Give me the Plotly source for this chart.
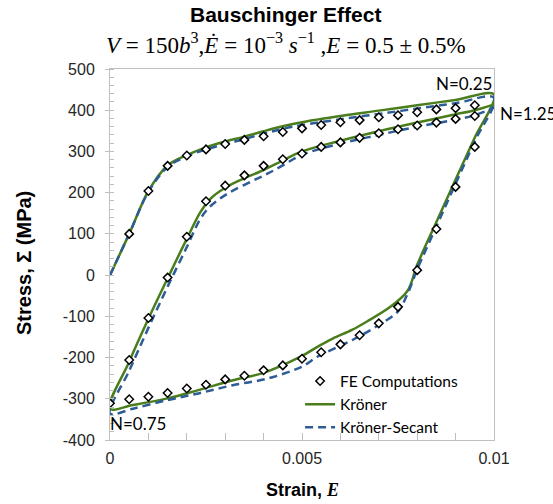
import plotly.graph_objects as go

# ---------------- data ----------------
# FE computations (markers)
fe_load_x = [0.0005, 0.001, 0.0015, 0.002, 0.0025, 0.003, 0.0035, 0.004, 0.0045, 0.005,
             0.0055, 0.006, 0.0065, 0.007, 0.0075, 0.008, 0.0085, 0.009, 0.0095]
fe_load_y = [100, 204, 265, 290, 305, 318, 328, 337, 347, 356,
             364, 371, 376, 383, 388, 395, 402, 405, 412]
fe_unload_x = [0.0095, 0.009, 0.0085, 0.008, 0.0075, 0.007, 0.0065, 0.006, 0.0055, 0.005,
               0.0045, 0.004, 0.0035, 0.003, 0.0025, 0.002, 0.0015, 0.001, 0.0005, 0.0]
fe_unload_y = [311, 214, 112, 12, -77, -117, -146, -168, -187, -203,
               -219, -231, -244, -253, -266, -275, -286, -295, -301, -311]
fe_reload_x = [0.0005, 0.001, 0.0015, 0.002, 0.0025, 0.003, 0.0035, 0.004, 0.0045, 0.005,
               0.0055, 0.006, 0.0065, 0.007, 0.0075, 0.008, 0.0085, 0.009, 0.0095]
fe_reload_y = [-206, -104, -6, 93, 179, 217, 242, 265, 281, 295,
               311, 322, 333, 344, 354, 363, 370, 379, 386]

# Kröner model (solid line)
kr_load_x = [0, 0.0005, 0.001, 0.0015, 0.002, 0.0025, 0.003, 0.0035, 0.004, 0.0045,
             0.005, 0.006, 0.007, 0.008, 0.009, 0.01]
kr_load_y = [0, 100, 204, 266, 291, 310, 324, 336, 349, 361,
             371, 386, 399, 412, 425, 438]
kr_unload_x = [0.0095, 0.009, 0.0085, 0.008, 0.00775, 0.0073, 0.0067, 0.0063, 0.0058,
               0.0054, 0.005, 0.004, 0.0032, 0.0023, 0.0015, 0.0006, 0.0]
kr_unload_y = [334, 232, 129, 25, -38, -77, -112, -133, -154,
               -174, -196, -237, -255, -279, -299, -315, -324]
kr_reload_x = [0.0005, 0.001, 0.0015, 0.002, 0.00235, 0.0026, 0.003, 0.0035, 0.004,
               0.0045, 0.005, 0.006, 0.007, 0.008, 0.009, 0.0095, 0.01]
kr_reload_y = [-210, -106, -8, 88, 152, 184, 212, 235, 255,
               278, 300, 326, 349, 370, 390, 400, 414]

# Kröner-Secant model (dashed line)
ks_load_x = [0, 0.0005, 0.001, 0.0015, 0.002, 0.0025, 0.003, 0.0035, 0.004, 0.0045,
             0.005, 0.006, 0.007, 0.008, 0.009, 0.01]
ks_load_y = [0, 100, 202, 262, 288, 305, 318, 330, 343, 355,
             364, 378, 391, 404, 417, 430]
ks_unload_x = [0.0095, 0.009, 0.0085, 0.008, 0.00775, 0.0075, 0.007, 0.0063, 0.0054,
               0.005, 0.0041, 0.0032, 0.0023, 0.0015, 0.0006, 0.0]
ks_unload_y = [325, 222, 118, 14, -45, -88, -121, -158, -198,
               -222, -251, -267, -287, -303, -324, -336]
ks_reload_x = [0.0005, 0.001, 0.0015, 0.002, 0.00235, 0.0026, 0.0029, 0.0032, 0.0037,
               0.0041, 0.0045, 0.005, 0.006, 0.007, 0.008, 0.009, 0.0095, 0.01]
ks_reload_y = [-232, -128, -28, 68, 136, 166, 188, 205, 228,
               246, 266, 292, 319, 340, 360, 377, 388, 406]

x_tick_vals = [0, 0.005, 0.01]
x_tick_text = ["0", "0.005", "0.01"]
y_tick_vals = [-400, -300, -200, -100, 0, 100, 200, 300, 400, 500]
y_tick_text = ["-400", "-300", "-200", "-100", "0", "100", "200", "300", "400", "500"]

cycle_labels = ["N=0.25", "N=1.25", "N=0.75"]
series_names = ["FE Computations", "Kröner", "Kröner-Secant"]

# ---------------- figure ----------------
GREEN = "#4A7D1C"
BLUE = "#2D5C97"
SANS = "Liberation Sans, Arial, sans-serif"
LEG = "Lato, Liberation Sans, sans-serif"
SERIF = "Liberation Serif, Times New Roman, serif"

fe_x = fe_load_x + fe_unload_x + fe_reload_x
fe_y = fe_load_y + fe_unload_y + fe_reload_y
kr_x = kr_load_x + kr_unload_x + kr_reload_x
kr_y = kr_load_y + kr_unload_y + kr_reload_y
ks_x = ks_load_x + ks_unload_x + ks_reload_x
ks_y = ks_load_y + ks_unload_y + ks_reload_y

fig = go.Figure()
fig.add_trace(go.Scatter(x=kr_x, y=kr_y, mode="lines", name=series_names[1],
                         line=dict(color=GREEN, width=2.5, shape="spline", smoothing=1.0),
                         legendrank=2))
fig.add_trace(go.Scatter(x=ks_x, y=ks_y, mode="lines", name=series_names[2],
                         line=dict(color=BLUE, width=2.5, dash="8px,5px",
                                   shape="spline", smoothing=1.0),
                         legendrank=3))
fig.add_trace(go.Scatter(x=fe_x, y=fe_y, mode="markers", name=series_names[0],
                         marker=dict(symbol="diamond", size=6.5, color="white",
                                     line=dict(color="black", width=1.5)),
                         legendrank=1))

axis_common = dict(showline=True, linecolor="#BFBFBF", linewidth=1, mirror=True,
                   showgrid=False, zeroline=False,
                   tickfont=dict(family=SANS, size=16, color="#262626"))

fig.update_xaxes(range=[0, 0.01], tickvals=x_tick_vals, ticktext=x_tick_text,
                 ticks="inside", ticklen=7, tickcolor="#BFBFBF", ticklabelstandoff=4,
                 minor=dict(dtick=0.001, ticks="inside", ticklen=7, tickcolor="#BFBFBF"),
                 **axis_common)
fig.update_yaxes(range=[-400, 500], tickvals=y_tick_vals, ticktext=y_tick_text,
                 ticks="outside", ticklen=4, tickcolor="#BFBFBF", ticklabelstandoff=7,
                 minor=dict(dtick=20, ticks="inside", ticklen=4, tickcolor="#BFBFBF"),
                 **axis_common)

annotations = [
    dict(text="<b>Bauschinger Effect</b>", xref="paper", yref="paper", x=0.458, y=1.148,
         xanchor="center", yanchor="middle", showarrow=False,
         font=dict(family=SANS, size=21, color="black")),
    dict(text="<i>V</i> = 150<i>b</i><sup>3</sup>,<i>Ė</i> = 10<sup>−3</sup> <i>s</i><sup>−1</sup> ,<i>E</i> = 0.5 ± 0.5%",
         xref="paper", yref="paper", x=0.458, y=1.07, xanchor="center", yanchor="middle",
         showarrow=False, font=dict(family=SERIF, size=23, color="black")),
    dict(text="<b>Strain, </b><b><i><span style='font-family:Liberation Serif'>E</span></i></b>",
         xref="paper", yref="paper", x=0.5, y=-0.135, xanchor="center", yanchor="middle",
         showarrow=False, font=dict(family=SANS, size=18, color="black")),
    dict(text="<b>Stress, Σ (MPa)</b>", xref="paper", yref="paper", x=-0.224, y=0.477,
         xanchor="center", yanchor="middle", textangle=-90, showarrow=False,
         font=dict(family=SANS, size=20, color="black")),
    dict(text=cycle_labels[0], x=0.01, y=466, xref="x", yref="y", xanchor="right",
         yanchor="middle", showarrow=False, font=dict(family=LEG, size=17, color="black")),
    dict(text=cycle_labels[1], x=0.01, y=393, xref="x", yref="y", xanchor="left", xshift=4,
         yanchor="middle", showarrow=False, font=dict(family=LEG, size=17, color="black")),
    dict(text=cycle_labels[2], x=0, y=-359, xref="x", yref="y", xanchor="left", xshift=-2,
         yanchor="middle", showarrow=False, font=dict(family=LEG, size=17, color="black")),
]

fig.update_layout(
    width=553, height=504,
    margin=dict(l=110, r=59, t=69, b=64),
    paper_bgcolor="white", plot_bgcolor="white",
    showlegend=True,
    legend=dict(x=0.495, y=-0.012, xanchor="left", yanchor="bottom",
                bgcolor="rgba(0,0,0,0)", font=dict(family=LEG, size=15.5, color="black"),
                tracegroupgap=0),
    annotations=annotations,
)

fig.write_html("out.html", config={"displayModeBar": False},
               post_script="document.body.style.margin='0px';document.body.style.padding='0px';")
